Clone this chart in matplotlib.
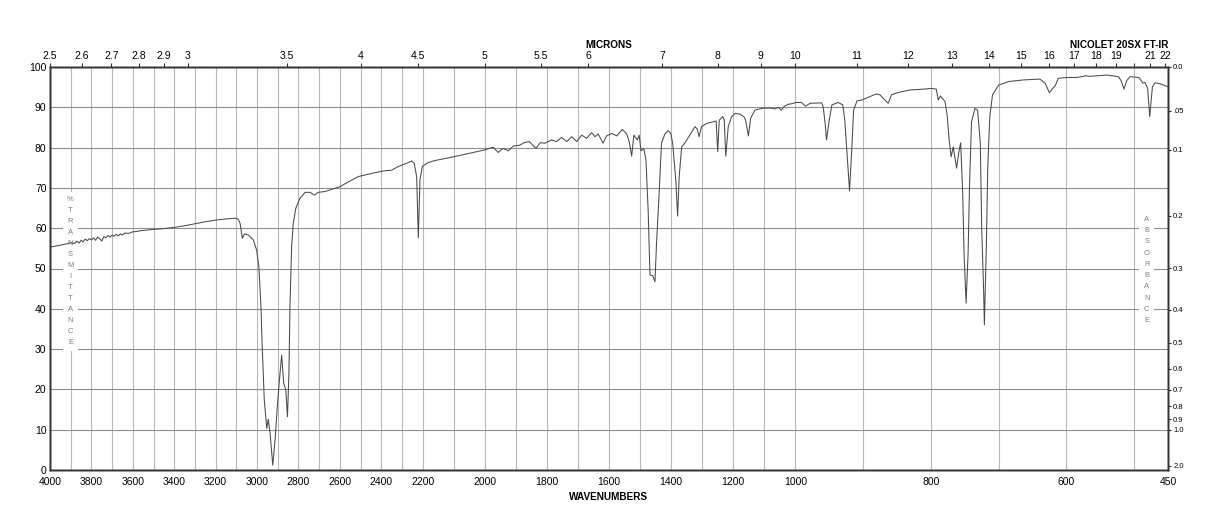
import numpy as np
import matplotlib.pyplot as plt

plt.rcParams['font.family'] = ['Liberation Sans', 'DejaVu Sans']

# spectrum: wavenumber (cm-1) and % transmittance
wn_oh = [4000, 3960, 3920, 3900, 3880, 3870, 3860, 3850, 3840, 3830,
         3820, 3810, 3800, 3790, 3780, 3770, 3760, 3750, 3740, 3730,
         3720, 3710, 3700, 3690, 3680, 3670, 3660, 3650, 3640, 3620,
         3600, 3580, 3560, 3500, 3450, 3400, 3350, 3300, 3250, 3200,
         3150, 3100]
t_oh = [55.3, 55.7, 56.1, 56.4, 56.2, 56.8, 56.3, 57.0, 56.6, 57.3,
        56.9, 57.4, 57.1, 57.6, 57.0, 57.8, 57.4, 56.8, 57.9, 57.6,
        58.2, 57.8, 58.3, 58.0, 58.5, 58.1, 58.6, 58.3, 58.8, 58.7,
        59.1, 59.2, 59.4, 59.7, 59.9, 60.2, 60.6, 61.1, 61.6, 62.0,
        62.3, 62.5]

wn_ch = [3090, 3082, 3071, 3061, 3042, 3018, 3002, 2991, 2981, 2975,
         2965, 2953, 2946, 2937, 2924, 2913, 2902, 2892, 2881, 2871,
         2861, 2853, 2846, 2841, 2833, 2825, 2813, 2793, 2768, 2744,
         2723, 2704, 2672, 2599, 2559, 2511, 2446, 2390, 2350, 2318,
         2278, 2253, 2241, 2229, 2221, 2213, 2202]
t_ch = [62.2, 61.2, 57.5, 58.6, 58.3, 57.1, 54.6, 50.4, 40.5, 30.6,
        17.4, 10.3, 12.6, 9.1, 1.2, 7.4, 15.7, 22.3, 28.5, 21.5,
        19.9, 13.2, 24.0, 40.5, 55.4, 61.2, 64.9, 67.4, 68.9, 68.9,
        68.2, 68.9, 69.1, 70.3, 71.5, 72.8, 73.6, 74.2, 74.4, 75.3,
        76.1, 76.7, 76.1, 72.8, 57.6, 72.0, 75.3]

wn_mid = [2182, 2160, 2101, 2002, 1973, 1957, 1941, 1924, 1908, 1887,
          1874, 1857, 1835, 1822, 1806, 1785, 1769, 1753, 1736, 1720,
          1704, 1688, 1672, 1656, 1645, 1635, 1619, 1608, 1591, 1575,
          1557, 1543, 1535, 1527, 1520, 1509, 1503, 1497, 1488, 1481,
          1474, 1468, 1459, 1452, 1447, 1438, 1431, 1420, 1409, 1401,
          1395, 1385, 1379, 1374, 1366, 1356, 1340, 1323, 1316, 1310,
          1302, 1286, 1264, 1255, 1250, 1245, 1234, 1229, 1224, 1216,
          1205, 1194, 1178, 1165, 1160, 1151, 1144, 1130, 1115, 1100,
          1080, 1065, 1055, 1045, 1035, 1020, 1010]
t_mid = [76.3, 76.8, 77.7, 79.4, 80.1, 78.8, 79.8, 79.2, 80.4, 80.6,
         81.2, 81.5, 79.8, 81.2, 81.1, 81.9, 81.5, 82.5, 81.5, 82.7,
         81.5, 83.1, 82.3, 83.7, 82.7, 83.4, 81.1, 82.9, 83.5, 82.9,
         84.5, 83.4, 81.5, 77.9, 83.1, 81.9, 83.1, 79.2, 79.8, 76.9,
         64.5, 48.4, 48.2, 46.7, 56.2, 69.5, 81.1, 83.4, 84.2, 83.5,
         81.1, 72.0, 63.0, 72.8, 80.2, 81.1, 83.1, 85.2, 84.6, 82.7,
         85.2, 86.0, 86.4, 86.6, 79.0, 86.8, 87.7, 86.9, 77.9, 85.2,
         87.7, 88.5, 88.3, 87.6, 86.8, 82.9, 87.3, 89.3, 89.6, 89.8,
         89.8, 89.6, 90.0, 89.3, 90.3, 90.8, 90.9]

wn_low = [1000, 991, 985, 978, 961, 959, 956, 954, 950, 946,
          937, 930, 927, 923, 920, 917, 914, 909, 902, 892,
          881, 875, 868, 863, 858, 850, 831, 811, 799, 792,
          789, 786, 779, 776, 773, 770, 767, 762, 759, 756,
          753, 751, 748, 745, 743, 740, 735, 731, 727, 725,
          722, 721, 718, 716, 713, 709, 700, 685, 663, 639,
          631, 625, 620, 616, 612, 599, 584, 572, 565, 540,
          523, 519, 515, 511, 506, 493, 487, 484, 480, 477,
          473, 469, 461, 450]
t_low = [91.2, 91.2, 90.3, 91.0, 91.1, 90.2, 86.0, 81.9, 86.8, 90.6,
         91.2, 90.6, 86.8, 76.9, 69.3, 78.6, 89.3, 91.6, 91.8, 92.5,
         93.3, 93.1, 91.8, 91.0, 93.1, 93.6, 94.3, 94.5, 94.7, 94.5,
         91.8, 92.8, 91.4, 88.1, 81.9, 77.7, 80.2, 74.9, 78.6, 81.2,
         68.7, 53.8, 41.4, 53.8, 70.3, 86.4, 89.7, 89.3, 81.1, 60.4,
         43.8, 36.0, 56.3, 75.3, 87.7, 93.1, 95.5, 96.4, 96.8, 97.0,
         95.9, 93.6, 94.7, 95.5, 97.2, 97.4, 97.4, 97.8, 97.7, 98.0,
         97.6, 96.5, 94.5, 96.6, 97.6, 97.4, 96.0, 96.2, 94.7, 87.7,
         95.1, 96.1, 95.8, 95.1]

wn = np.array(wn_oh + wn_ch + wn_mid + wn_low)
tr = np.array(t_oh + t_ch + t_mid + t_low)

# axis ticks
wn_labels = [4000, 3800, 3600, 3400, 3200, 3000, 2800, 2600, 2400, 2200,
             2000, 1800, 1600, 1400, 1200, 1000, 800, 600, 450]
microns = [2.5, 2.6, 2.7, 2.8, 2.9, 3, 3.5, 4, 4.5, 5, 5.5, 6, 7, 8, 9,
           10, 11, 12, 13, 14, 15, 16, 17, 18, 19, 20, 21, 22]
micron_labels = ['2.5', '2.6', '2.7', '2.8', '2.9', '3', '3.5', '4', '4.5',
                 '5', '5.5', '6', '7', '8', '9', '10', '11', '12', '13',
                 '14', '15', '16', '17', '18', '19', '', '21', '22']
absorb = [0.0, 0.05, 0.1, 0.2, 0.3, 0.4, 0.5, 0.6, 0.7, 0.8, 0.9, 1.0, 2.0]
absorb_labels = ['0.0', '.05', '0.1', '0.2', '0.3', '0.4', '0.5', '0.6',
                 '0.7', '0.8', '0.9', '1.0', '2.0']

# the x axis is three equal parts: 4000-2200, 2200-1000, 1000-450
brk_wn = [450, 1000, 2200, 4000]
brk_pos = [0, 1, 2, 3]


def fwd(x):
    return np.interp(x, brk_wn, brk_pos)


def inv(p):
    return np.interp(p, brk_pos, brk_wn)


W, H = 1218, 528
fig = plt.figure(figsize=(W / 100, H / 100), dpi=100)
ax = fig.add_axes([50 / W, 58 / H, 1118 / W, 403 / H])

ax.set_xscale('function', functions=(fwd, inv))
ax.set_xlim(4000, 450)
ax.set_ylim(0, 100)

ax.plot(wn, tr, color='#4a4a4a', lw=0.75, zorder=3)

ax.set_xticks(wn_labels)
ax.set_xticks(np.arange(3900, 450, -100), minor=True)
ax.set_yticks(np.arange(0, 101, 10))
ax.xaxis.grid(True, which='both', color='#b8b8b8', lw=0.8)
ax.yaxis.grid(True, color='#8e8e8e', lw=0.8)
ax.set_axisbelow(True)
ax.tick_params(axis='x', which='both', length=0, labelsize=7.5, pad=5)
ax.tick_params(axis='y', length=0, labelsize=7.5, pad=2.5)
for s in ax.spines.values():
    s.set_color('#333333')
    s.set_linewidth(1)

# top axis in microns
axt = ax.twiny()
axt.set_xscale('function', functions=(fwd, inv))
axt.set_xlim(4000, 450)
axt.set_xticks([10000 / m for m in microns])
axt.set_xticklabels(micron_labels)
axt.tick_params(axis='x', length=3, labelsize=7.5, pad=1, color='#333333')

# right axis in absorbance
axr = ax.twinx()
axr.set_ylim(0, 100)
axr.set_yticks([100 * 10 ** (-a) for a in absorb])
axr.set_yticklabels(absorb_labels)
axr.tick_params(axis='y', length=2.5, labelsize=5.5, pad=1.2, color='#333333')
for a in (axt, axr):
    for s in a.spines.values():
        s.set_color('#333333')
        s.set_linewidth(1)

box = dict(boxstyle='square,pad=0.6', fc='white', ec='none')
ax.text(0.0183, 0.4926, '\n'.join('%TRANSMITTANCE'), transform=ax.transAxes,
        ha='center', va='center', fontsize=5.5, color='#808080',
        linespacing=1.8, bbox=box, zorder=1)
ax.text(0.981, 0.496, '\n'.join('ABSORBANCE'), transform=ax.transAxes,
        ha='center', va='center', fontsize=5.5, color='#808080',
        linespacing=1.85, bbox=box, zorder=1)

fig.text(609 / W, 1 - 496.5 / H, 'WAVENUMBERS', ha='center', va='center',
         fontsize=7.2, fontweight='bold')
fig.text(609 / W, 1 - 45 / H, 'MICRONS', ha='center', va='center',
         fontsize=7.2, fontweight='bold')
fig.text(1168 / W, 1 - 45 / H, 'NICOLET 20SX FT-IR', ha='right', va='center',
         fontsize=7.2, fontweight='bold')

fig.savefig('out.png', dpi=100)
